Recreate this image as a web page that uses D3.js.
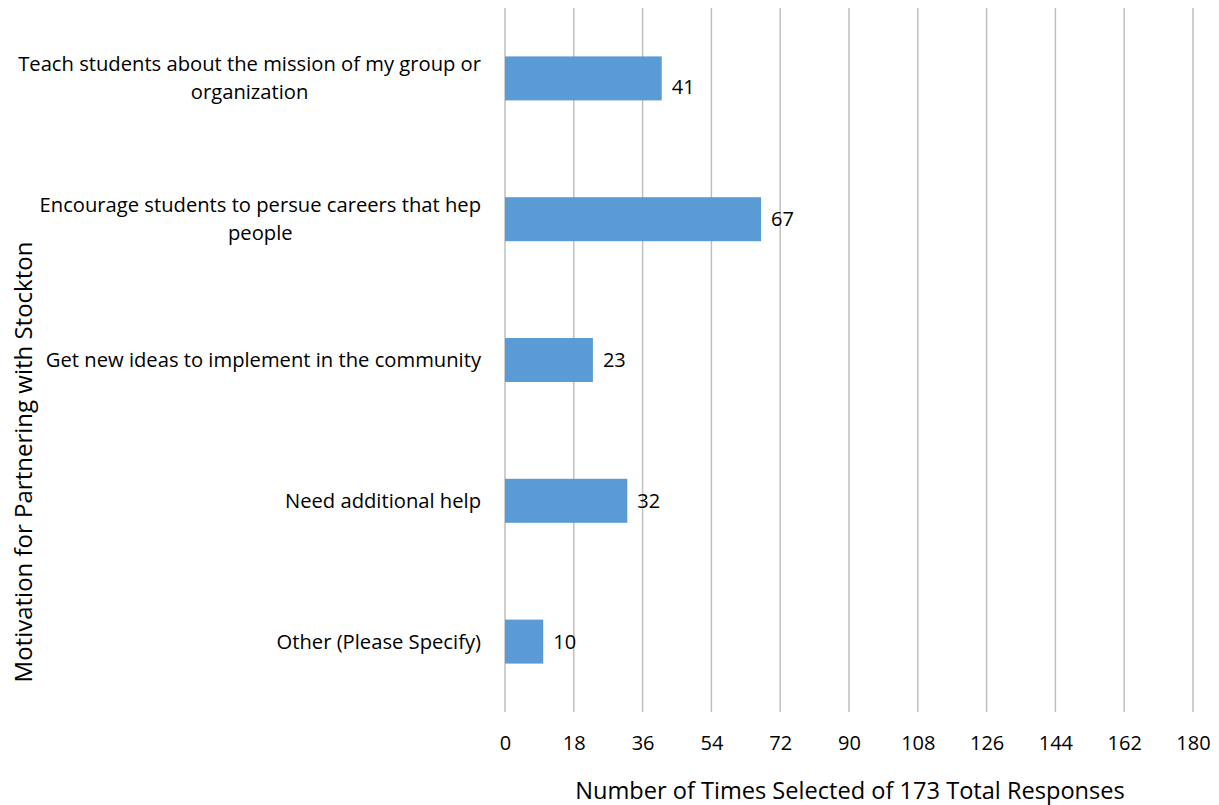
<!DOCTYPE html>
<html>
<head>
<meta charset="utf-8">
<script src="https://cdn.jsdelivr.net/npm/d3@7"></script>
<style>
  html, body { margin: 0; padding: 0; background: #fff; }
  svg { display: block; }
  text { font-family: "Open Sans", sans-serif; fill: #000; }
</style>
</head>
<body>
<svg id="chart" width="1219" height="805"></svg>
<script>
const categories = [
  ["Teach students about the mission of my group or", "organization"],
  ["Encourage students to persue careers that hep", "people"],
  ["Get new ideas to implement in the community"],
  ["Need additional help"],
  ["Other (Please Specify)"]
];
const values = [41, 67, 23, 32, 10];
const tickValues = [0, 18, 36, 54, 72, 90, 108, 126, 144, 162, 180];
const xTitle = "Number of Times Selected of 173 Total Responses";
const yTitle = "Motivation for Partnering with Stockton";

const svg = d3.select("#chart");
const plot = { left: 505, right: 1193, top: 8, bottom: 712 };
const FONT = "'Open Sans', sans-serif";

const x = d3.scaleLinear().domain([0, 180]).range([plot.left, plot.right]);
const y = d3.scaleBand().domain(d3.range(categories.length))
  .range([plot.top, plot.bottom]).paddingInner(0.6875).paddingOuter(0.34375);

// gridlines
svg.append("g").selectAll("line").data(tickValues).join("line")
  .attr("x1", d => x(d)).attr("x2", d => x(d))
  .attr("y1", plot.top).attr("y2", plot.bottom)
  .attr("stroke", "#bfbfbf").attr("stroke-width", 1.5);

// x axis tick labels
const xAxis = d3.axisBottom(x).tickValues(tickValues).tickSize(0).tickPadding(0);
const gx = svg.append("g").attr("transform", `translate(0,${plot.bottom})`).call(xAxis);
gx.select(".domain").remove();
gx.selectAll("text").attr("font-size", 20).attr("font-family", FONT)
  .attr("dy", null).attr("y", 38).attr("fill", "#000");

// bars
svg.append("g").selectAll("rect").data(values).join("rect")
  .attr("x", x(0)).attr("y", (d, i) => y(i))
  .attr("width", d => x(d) - x(0)).attr("height", y.bandwidth())
  .attr("fill", "#5b9bd5");

// data labels (first one sits slightly lower in the original)
svg.append("g").selectAll("text").data(values).join("text")
  .attr("x", d => x(d) + 10)
  .attr("y", (d, i) => y(i) + y.bandwidth() / 2 + 7 + (i === 0 ? 9 : 0))
  .attr("font-size", 20).text(d => d);

// category labels
const labelRight = 481;
const lineH = 28;
categories.forEach((lines, i) => {
  const cy = y(i) + y.bandwidth() / 2;
  const g = svg.append("g");
  const texts = lines.map((t, j) => g.append("text")
    .attr("font-size", 20.2)
    .attr("y", cy + 7 + (j - (lines.length - 1) / 2) * lineH)
    .text(t));
  if (lines.length === 1) {
    texts[0].attr("x", labelRight).attr("text-anchor", "end");
  } else {
    const maxW = d3.max(texts, t => t.node().getComputedTextLength());
    texts.forEach(t => t.attr("x", labelRight - maxW / 2).attr("text-anchor", "middle"));
  }
});

// axis titles
svg.append("text").attr("x", 850).attr("y", 799).attr("text-anchor", "middle")
  .attr("font-size", 23.6).text(xTitle);
svg.append("text").attr("transform", "translate(32,462) rotate(-90)")
  .attr("text-anchor", "middle").attr("font-size", 24).text(yTitle);
</script>
</body>
</html>
